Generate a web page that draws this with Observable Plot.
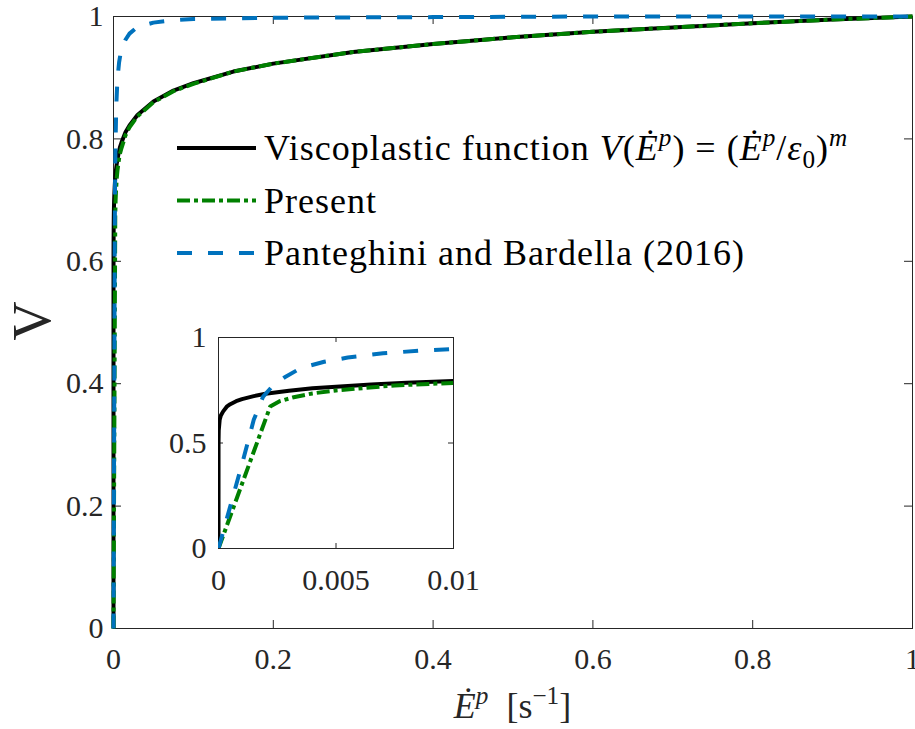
<!DOCTYPE html>
<html><head><meta charset="utf-8">
<script src="https://cdn.jsdelivr.net/npm/d3@7"></script>
<script src="https://cdn.jsdelivr.net/npm/@observablehq/plot@0.6"></script>
<style>
body{margin:0;background:#fff;}
#wrap{position:relative;width:915px;height:729px;}
#inset{position:absolute;left:158px;top:317px;}
</style></head><body><div id="wrap"><div id="main"></div><div id="inset"></div></div>
<script>
// ---- data ----
const seriesNames = ["Viscoplastic function", "Present", "Panteghini and Bardella (2016)"];

const xBlack = [0, 0.000001, 0.00001, 0.00005, 0.0001, 0.0002, 0.00035, 0.0005, 0.00075, 0.001, 0.0015, 0.002, 0.003, 0.004, 0.005, 0.0065, 0.008, 0.01, 0.015, 0.02, 0.03, 0.05, 0.075, 0.1, 0.15, 0.2, 0.3, 0.4, 0.5, 0.6, 0.7, 0.8, 0.9, 1];
const vBlack = [0, 0.50, 0.56, 0.61, 0.63, 0.65, 0.672, 0.684, 0.698, 0.708, 0.722, 0.733, 0.748, 0.759, 0.767, 0.777, 0.786, 0.794, 0.811, 0.822, 0.839, 0.861, 0.879, 0.891, 0.910, 0.923, 0.942, 0.955, 0.966, 0.975, 0.982, 0.989, 0.995, 1];

const xPresent = [0, 0.0022, 0.0026, 0.0032, 0.004, 0.005, 0.0075, 0.01, 0.015, 0.02, 0.03, 0.05, 0.075, 0.1, 0.15, 0.2, 0.3, 0.4, 0.5, 0.6, 0.7, 0.8, 0.9, 1];
const vPresent = [0, 0.673, 0.698, 0.717, 0.735, 0.749, 0.773, 0.785, 0.806, 0.819, 0.837, 0.860, 0.878, 0.890, 0.910, 0.923, 0.942, 0.955, 0.966, 0.975, 0.982, 0.989, 0.995, 1];

const xPB = [0, 0.0005, 0.001, 0.0015, 0.0019, 0.0023, 0.0028, 0.0035, 0.0045, 0.0055, 0.007, 0.0085, 0.01, 0.015, 0.02, 0.03, 0.05, 0.075, 0.1, 0.2, 0.4, 0.6, 0.8, 1];
const vPB = [0, 0.20, 0.40, 0.61, 0.72, 0.77, 0.81, 0.855, 0.885, 0.905, 0.925, 0.937, 0.946, 0.962, 0.972, 0.983, 0.990, 0.994, 0.996, 0.998, 0.999, 1, 1, 1];

const xTicksMain = [0, 0.2, 0.4, 0.6, 0.8, 1];
const yTicksMain = [0, 0.2, 0.4, 0.6, 0.8, 1];
const xTicksInset = [0, 0.005, 0.01];
const yTicksInset = [0, 0.5, 1];

// ---- styling ----
const AX = "#262626";
const FONT = "'Liberation Serif', 'Times New Roman', serif";
const fmt = d3.format("~g");
const series = [
  {name: seriesNames[0], xs: xBlack, vs: vBlack, stroke: "#000000", dash: null},
  {name: seriesNames[1], xs: xPresent, vs: vPresent, stroke: "#008000", dash: "13,4,4,4"},
  {name: seriesNames[2], xs: xPB, vs: vPB, stroke: "#0072BD", dash: "15,16"}
];
const rows = s => s.xs.map((x, i) => ({x, v: s.vs[i]}));
const lineMarks = (clip, sw) => series.map(s => Plot.line(rows(s), {
  x: "x", y: "v", stroke: s.stroke, strokeWidth: sw, strokeDasharray: s.dash,
  strokeLinecap: "butt", strokeLinejoin: "round", clip
}));
function tickMarks(xt, yt, fw, fh, len) {
  return [
    Plot.tickX(xt, {x: d => d, insetTop: fh - len, stroke: AX}),
    Plot.tickX(xt, {x: d => d, insetBottom: fh - len, stroke: AX}),
    Plot.tickY(yt, {y: d => d, insetRight: fw - len, stroke: AX}),
    Plot.tickY(yt, {y: d => d, insetLeft: fw - len, stroke: AX})
  ];
}
function serifAll(el) {
  d3.select(el).attr("font-family", FONT).style("font-family", FONT);
  d3.select(el).selectAll("text, tspan").attr("font-family", FONT).style("font-family", FONT);
}

// ---- main chart ----
const W = 915, H = 729, mL = 113, mR = 3, mT = 16, mB = 101;
const fw = W - mL - mR, fh = H - mT - mB;
const main = Plot.plot({
  width: W, height: H, marginLeft: mL, marginRight: mR, marginTop: mT, marginBottom: mB,
  style: {fontSize: "30px", color: AX, background: "transparent", overflow: "visible"},
  x: {domain: [0, 1], ticks: xTicksMain, tickFormat: fmt, tickSize: 0, tickPadding: 19, label: null},
  y: {domain: [0, 1], ticks: yTicksMain, tickFormat: fmt, tickSize: 0, tickPadding: 10, label: null},
  marks: [
    ...tickMarks(xTicksMain, yTicksMain, fw, fh, 8),
    Plot.frame({stroke: AX, strokeWidth: 1}),
    ...lineMarks(false, 4)
  ]
});
document.getElementById("main").appendChild(main);

// rich text helper (italic, super/subscripts)
function rich(text, parts, size) {
  let shift = 0;
  parts.forEach(p => {
    const target = p.sup ? -0.4 * size : p.sub ? 0.22 * size : 0;
    const ts = text.append("tspan").text(p.t).attr("dy", target - shift);
    shift = target;
    if (p.sup || p.sub) ts.attr("font-size", size * 0.7);
    if (p.it) ts.attr("font-style", "italic");
  });
}

const svg = d3.select(main);
// y label
svg.append("text").attr("transform", "translate(50,321) rotate(-90)")
  .attr("text-anchor", "middle").attr("font-size", 54).attr("fill", AX).text("V");
// x label
{
  const t = svg.append("text").attr("x", (mL + W - mR) / 2).attr("y", 718)
    .attr("text-anchor", "middle").attr("font-size", 36).attr("fill", AX);
  rich(t, [{t: "Ė", it: 1}, {t: "p", it: 1, sup: 1}, {t: "\u00a0\u00a0[s"}, {t: "\u22121", sup: 1}, {t: "]"}], 36);
}
// legend
const legendParts = [
  [{t: "Viscoplastic function "}, {t: "V", it: 1}, {t: "("}, {t: "Ė", it: 1}, {t: "p", it: 1, sup: 1},
   {t: ") = ("}, {t: "Ė", it: 1}, {t: "p", it: 1, sup: 1}, {t: "/"}, {t: "ε", it: 1}, {t: "0", sub: 1},
   {t: ")"}, {t: "m", it: 1, sup: 1}],
  [{t: seriesNames[1]}],
  [{t: seriesNames[2]}]
];
const LS = 36;
series.forEach((s, i) => {
  const yl = 148 + 52.5 * i;
  svg.append("line").attr("x1", 177).attr("x2", 256).attr("y1", yl).attr("y2", yl)
    .attr("stroke", s.stroke).attr("stroke-width", 4).attr("stroke-dasharray", s.dash)
    .attr("stroke-linecap", "butt");
  const t = svg.append("text").attr("x", 264).attr("y", yl + 12).attr("font-size", LS)
    .attr("letter-spacing", 1).attr("text-anchor", "start").attr("fill", "#000");
  rich(t, legendParts[i], LS);
});
serifAll(main);

// ---- inset ----
const iL = 60, iR = 20, iT = 20, iB = 50, ifw = 235, ifh = 211;
const inset = Plot.plot({
  width: iL + ifw + iR, height: iT + ifh + iB,
  marginLeft: iL, marginRight: iR, marginTop: iT, marginBottom: iB,
  style: {fontSize: "30px", color: AX, background: "transparent", overflow: "visible"},
  x: {domain: [0, 0.01], ticks: xTicksInset, tickFormat: fmt, tickSize: 0, tickPadding: 20, label: null},
  y: {domain: [0, 1], ticks: yTicksInset, tickFormat: fmt, tickSize: 0, tickPadding: 12, label: null},
  marks: [
    ...tickMarks(xTicksInset, yTicksInset, ifw, ifh, 5),
    Plot.frame({stroke: AX, strokeWidth: 1}),
    ...lineMarks(true, 4)
  ]
});
document.getElementById("inset").appendChild(inset);
serifAll(inset);
</script>
</body></html>
